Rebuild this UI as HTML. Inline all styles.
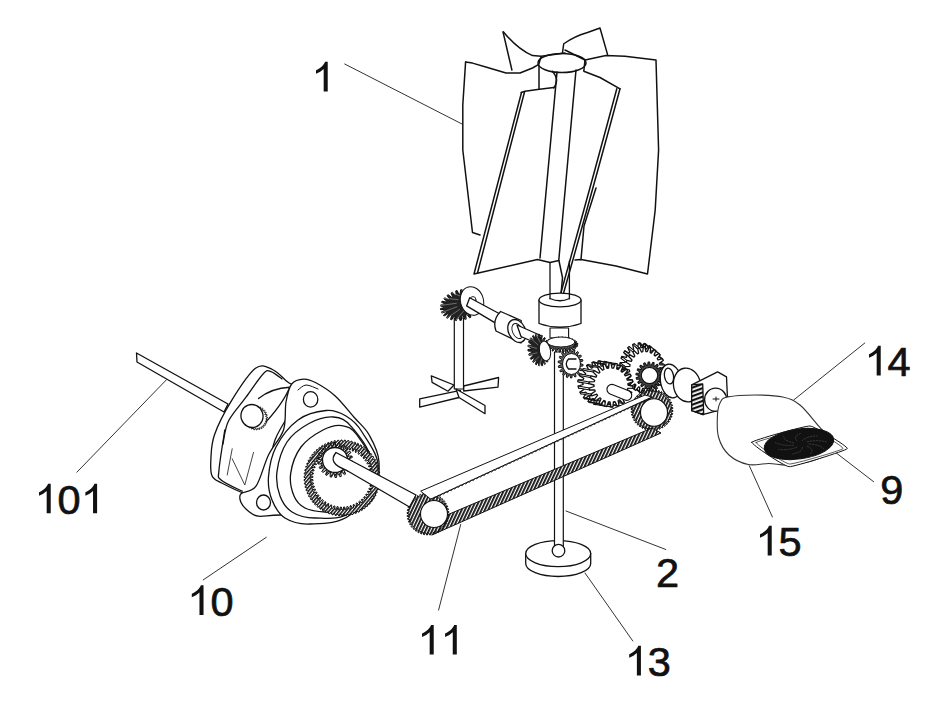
<!DOCTYPE html>
<html><head><meta charset="utf-8"><style>
html,body{margin:0;padding:0;background:#fff;width:928px;height:704px;overflow:hidden}
svg{position:absolute;left:0;top:0}
</style></head><body>
<svg width="928" height="704" viewBox="0 0 928 704" font-family="Liberation Sans, sans-serif" stroke-linejoin="round" stroke-linecap="round">
<rect width="928" height="704" fill="#fff"/>
<path d="M323.68,91.50 L327.72,91.50 L327.72,61.83 L325.03,61.83 C324.09,64.94 320.56,68.26 316.00,70.34 L316.00,73.86 C318.90,72.72 321.81,70.96 323.68,69.09 Z" fill="#111"/>
<path d="M46.68,513.30 L50.72,513.30 L50.72,483.63 L48.03,483.63 C47.09,486.74 43.56,490.06 39.00,492.13 L39.00,495.66 C41.91,494.52 44.81,492.76 46.68,490.89 Z" fill="#111"/>
<text x="57.6" y="513.9" font-size="41.5" fill="#111" stroke="#111" stroke-width="0.7">0</text>
<path d="M93.05,513.30 L97.10,513.30 L97.10,483.63 L94.40,483.63 C93.47,486.74 89.94,490.06 85.38,492.13 L85.38,495.66 C88.28,494.52 91.19,492.76 93.05,490.89 Z" fill="#111"/>
<path d="M199.48,615.00 L203.52,615.00 L203.52,585.33 L200.83,585.33 C199.89,588.44 196.37,591.76 191.80,593.84 L191.80,597.36 C194.71,596.22 197.61,594.46 199.48,592.59 Z" fill="#111"/>
<text x="210.4" y="615.6" font-size="41.5" fill="#111" stroke="#111" stroke-width="0.7">0</text>
<path d="M429.68,654.60 L433.72,654.60 L433.72,624.93 L431.03,624.93 C430.09,628.04 426.56,631.36 422.00,633.44 L422.00,636.96 C424.90,635.82 427.81,634.06 429.68,632.19 Z" fill="#111"/>
<path d="M452.75,654.60 L456.80,654.60 L456.80,624.93 L454.10,624.93 C453.17,628.04 449.64,631.36 445.07,633.44 L445.07,636.96 C447.98,635.82 450.88,634.06 452.75,632.19 Z" fill="#111"/>
<path d="M636.88,675.50 L640.92,675.50 L640.92,645.83 L638.23,645.83 C637.29,648.94 633.77,652.26 629.20,654.34 L629.20,657.86 C632.11,656.72 635.01,654.96 636.88,653.09 Z" fill="#111"/>
<text x="647.8" y="676.1" font-size="41.5" fill="#111" stroke="#111" stroke-width="0.7">3</text>
<text x="655.9" y="586.6" font-size="41.5" fill="#111" stroke="#111" stroke-width="0.7">2</text>
<path d="M876.68,375.50 L880.72,375.50 L880.72,345.83 L878.03,345.83 C877.09,348.94 873.57,352.26 869.00,354.33 L869.00,357.86 C871.90,356.72 874.81,354.96 876.68,353.09 Z" fill="#111"/>
<text x="887.6" y="376.1" font-size="41.5" fill="#111" stroke="#111" stroke-width="0.7">4</text>
<text x="880.2" y="504.1" font-size="41.5" fill="#111" stroke="#111" stroke-width="0.7">9</text>
<path d="M767.68,555.40 L771.72,555.40 L771.72,525.73 L769.03,525.73 C768.09,528.84 764.57,532.16 760.00,534.24 L760.00,537.76 C762.90,536.62 765.81,534.86 767.68,532.99 Z" fill="#111"/>
<text x="778.6" y="556.0" font-size="41.5" fill="#111" stroke="#111" stroke-width="0.7">5</text>
<polyline points="344.7,64.0 462.0,124.0" fill="none" stroke="#333" stroke-width="1.0"/>
<polyline points="166.4,379.8 76.9,472.2" fill="none" stroke="#333" stroke-width="1.0"/>
<polyline points="266.3,537.3 203.2,579.9" fill="none" stroke="#333" stroke-width="1.0"/>
<polyline points="460.7,524.5 438.6,610.0" fill="none" stroke="#333" stroke-width="1.0"/>
<polyline points="585.0,573.0 632.8,641.0" fill="none" stroke="#333" stroke-width="1.0"/>
<polyline points="566.0,511.0 665.8,549.5" fill="none" stroke="#333" stroke-width="1.0"/>
<polyline points="864.8,343.0 793.7,400.0" fill="none" stroke="#333" stroke-width="1.0"/>
<polyline points="873.6,481.7 836.3,453.0" fill="none" stroke="#333" stroke-width="1.0"/>
<polyline points="772.4,517.0 749.3,465.7" fill="none" stroke="#333" stroke-width="1.0"/>
<polyline points="465.6,61.9 472.5,63.1 487.5,67.5 506.0,73.0 520.0,73.0 532.5,68.0 538.8,64.4 541.0,57.0" fill="none" stroke="#111" stroke-width="1.5"/>
<polyline points="465.6,61.9 462.8,105.0 462.8,150.0 472.5,232.5 480.0,235.0" fill="none" stroke="#111" stroke-width="1.5"/>
<polyline points="503.0,31.9 511.9,70.0" fill="none" stroke="#111" stroke-width="1.5"/>
<path d="M503.5,31.9 Q517.5,49 532.5,55.6 L541.25,56.25 L565,53" fill="none" stroke="#111" stroke-width="1.5" />
<ellipse cx="562" cy="63" rx="24" ry="9.5" transform="rotate(0 562 63)" fill="none" stroke="#111" stroke-width="1.5"/>
<path d="M562.5,52.5 L563.75,43.75 Q575,36 587.5,32.5 L600,28 L607.5,54.4" fill="none" stroke="#111" stroke-width="1.5" />
<polyline points="565.0,50.0 585.0,60.0" fill="none" stroke="#111" stroke-width="1.5"/>
<polyline points="585.0,60.0 606.0,55.6 625.0,56.2 656.0,60.0 658.6,150.0 655.2,210.0 647.5,274.0 616.0,266.0 581.0,259.4 575.0,260.0" fill="none" stroke="#111" stroke-width="1.5"/>
<polyline points="585.0,60.0 583.8,71.2 600.0,77.5 620.0,88.8" fill="none" stroke="#111" stroke-width="1.5"/>
<path d="M620,88.75 Q594,185 563.75,292.5" fill="none" stroke="#111" stroke-width="1.5" />
<path d="M616.8,88.75 Q591,185 561,292.5" fill="none" stroke="#111" stroke-width="1.5" />
<polyline points="596.0,188.0 584.0,226.0 581.0,259.4" fill="none" stroke="#111" stroke-width="1.5"/>
<polyline points="521.2,92.5 525.0,91.2 537.5,89.4 553.8,87.5" fill="none" stroke="#111" stroke-width="1.5"/>
<polyline points="521.5,92.5 474.0,274.0 537.5,259.4 550.0,262.5 558.8,260.6" fill="none" stroke="#111" stroke-width="1.5"/>
<polyline points="524.5,92.0 477.5,273.0" fill="none" stroke="#111" stroke-width="1.5"/>
<polyline points="539.0,66.0 539.0,88.8" fill="none" stroke="#111" stroke-width="1.5"/>
<path d="M552.5,71.25 Q560,80 553.75,88" fill="none" stroke="#111" stroke-width="1.5" />
<polyline points="557.0,72.0 540.0,258.0" fill="none" stroke="#111" stroke-width="1.5"/>
<polyline points="576.0,70.0 558.8,260.0 562.5,277.5 561.2,292.5" fill="none" stroke="#111" stroke-width="1.5"/>
<polygon points="431.3,375.8 454.0,385.0 448.0,391.2 432.1,382.4" fill="#fff" stroke="#111" stroke-width="1.3"/>
<polygon points="463.7,386.0 498.6,377.5 498.0,387.2 463.7,391.0" fill="#fff" stroke="#111" stroke-width="1.3"/>
<rect x="454.3" y="318" width="9.2" height="71" fill="#fff" stroke="#111" stroke-width="1.2"/>
<polygon points="460.4,390.4 419.7,398.8 419.7,407.2 459.0,397.5" fill="#fff" stroke="#111" stroke-width="1.3"/>
<polygon points="456.0,389.0 485.0,405.5 485.0,413.7 459.0,397.5" fill="#fff" stroke="#111" stroke-width="1.3"/>
<polygon points="477.4,300.6 481.4,300.3 481.6,301.4 477.7,302.5 477.6,303.3 481.5,303.9 481.3,305.1 477.2,305.2 476.9,306.0 480.5,307.7 479.9,308.8 475.8,308.0 475.2,308.8 478.2,311.2 477.4,312.2 473.5,310.5 472.7,311.2 475.0,314.4 473.9,315.3 470.5,312.8 469.5,313.4 471.0,317.1 469.6,317.8 466.9,314.6 465.8,315.0 466.3,319.1 464.9,319.5 463.1,315.8 461.8,316.1 461.4,320.2 459.9,320.4 459.0,316.4 457.8,316.5 456.5,320.5 455.0,320.4 455.1,316.4 454.0,316.2 451.8,319.8 450.5,319.4 451.6,315.7 450.6,315.3 447.6,318.3 446.5,317.7 448.6,314.3 447.8,313.8 444.2,316.0 443.4,315.2 446.3,312.5 445.7,311.8 441.8,313.1 441.3,312.1 444.8,310.2 444.6,309.4 440.6,309.7 440.4,308.6 444.3,307.5 444.4,306.7 440.5,306.1 440.7,304.9 444.8,304.8 445.1,304.0 441.5,302.3 442.1,301.2 446.2,302.0 446.8,301.2 443.8,298.8 444.6,297.8 448.5,299.5 449.3,298.8 447.0,295.6 448.1,294.7 451.5,297.2 452.5,296.6 451.0,292.9 452.4,292.2 455.1,295.4 456.2,295.0 455.7,290.9 457.1,290.5 458.9,294.2 460.2,293.9 460.6,289.8 462.1,289.6 463.0,293.6 464.2,293.5 465.5,289.5 467.0,289.6 466.9,293.6 468.0,293.8 470.2,290.2 471.5,290.6 470.4,294.3 471.4,294.7 474.4,291.7 475.5,292.3 473.4,295.7 474.2,296.2 477.8,294.0 478.6,294.8 475.7,297.5 476.3,298.2 480.2,296.9 480.7,297.9 477.2,299.8" fill="#222" stroke="#111" stroke-width="1.0"/>
<polyline points="481.5,300.8 476.8,300.9" fill="none" stroke="#bbb" stroke-width="0.5"/>
<polyline points="480.2,308.2 476.1,304.6" fill="none" stroke="#bbb" stroke-width="0.5"/>
<polyline points="474.4,314.9 473.2,307.9" fill="none" stroke="#bbb" stroke-width="0.5"/>
<polyline points="465.6,319.3 468.8,310.1" fill="none" stroke="#bbb" stroke-width="0.5"/>
<polyline points="455.7,320.4 463.9,310.7" fill="none" stroke="#bbb" stroke-width="0.5"/>
<polyline points="447.1,318.0 459.5,309.5" fill="none" stroke="#bbb" stroke-width="0.5"/>
<polyline points="441.6,312.6 456.8,306.8" fill="none" stroke="#bbb" stroke-width="0.5"/>
<polyline points="440.5,305.5 456.3,303.3" fill="none" stroke="#bbb" stroke-width="0.5"/>
<polyline points="444.2,298.3 458.1,299.6" fill="none" stroke="#bbb" stroke-width="0.5"/>
<polyline points="451.7,292.6 461.9,296.8" fill="none" stroke="#bbb" stroke-width="0.5"/>
<polyline points="461.3,289.7 466.7,295.4" fill="none" stroke="#bbb" stroke-width="0.5"/>
<polyline points="470.9,290.4 471.4,295.7" fill="none" stroke="#bbb" stroke-width="0.5"/>
<polyline points="478.2,294.4 475.1,297.7" fill="none" stroke="#bbb" stroke-width="0.5"/>
<ellipse cx="472" cy="301" rx="11.5" ry="14.5" transform="rotate(-15 472 301)" fill="#fff" stroke="#111" stroke-width="1.0"/>
<ellipse cx="473" cy="300" rx="3" ry="3.5" transform="rotate(0 473 300)" fill="#fff" stroke="#111" stroke-width="0.9"/>
<polygon points="469.7,297.7 500.0,314.0 496.0,323.4 466.6,305.9" fill="#fff" stroke="#111" stroke-width="1.3"/>
<path d="M500.6,311.5 L521.2,320.5 L521,343 L496,331 Q492,320 500.6,311.5 Z" fill="#fff" stroke="#111" stroke-width="1.3" />
<ellipse cx="517" cy="331" rx="8.5" ry="12" transform="rotate(-25 517 331)" fill="#fff" stroke="#111" stroke-width="1.3"/>
<ellipse cx="517.5" cy="331" rx="5" ry="8" transform="rotate(-25 517.5 331)" fill="none" stroke="#111" stroke-width="0.9"/>
<polygon points="517.0,325.0 541.8,336.0 538.0,344.0 521.0,336.5" fill="#fff" stroke="#111" stroke-width="1.3"/>
<path d="M525.7,553.6 L525.7,563.5 A32.5,13 0 0 0 590.7,563.5 L590.7,553.6" fill="#fff" stroke="#111" stroke-width="1.3" />
<ellipse cx="558.2" cy="553.6" rx="32.5" ry="13" transform="rotate(0 558.2 553.6)" fill="#fff" stroke="#111" stroke-width="1.3"/>
<rect x="554.5" y="352" width="8.8" height="196" fill="#fff" stroke="#111" stroke-width="1.2"/>
<ellipse cx="558.5" cy="550.7" rx="6.3" ry="6.3" transform="rotate(0 558.5 550.7)" fill="#fff" stroke="#111" stroke-width="1.3"/>
<path d="M539,300 L539,323.5 Q560,331 581,323.5 L581,300" fill="#fff" stroke="#111" stroke-width="1.3" />
<ellipse cx="560" cy="300" rx="21" ry="6.9" transform="rotate(0 560 300)" fill="#fff" stroke="#111" stroke-width="1.3"/>
<path d="M550,298.5 Q560,303 569.5,298.5" fill="none" stroke="#111" stroke-width="1.3" />
<polyline points="550.0,262.5 550.0,298.8" fill="none" stroke="#111" stroke-width="1.3"/>
<polyline points="569.4,261.0 569.4,298.8" fill="none" stroke="#111" stroke-width="1.3"/>
<rect x="550" y="328" width="18.6" height="10" fill="#fff" stroke="#111" stroke-width="1.1"/>
<polygon points="574.5,344.5 578.0,344.8 577.9,345.3 574.3,345.1 574.2,345.4 577.4,346.5 577.0,347.0 573.5,346.0 573.2,346.2 576.0,348.1 575.4,348.5 572.1,346.8 571.6,347.0 573.8,349.4 573.0,349.8 570.1,347.5 569.4,347.6 571.0,350.6 570.0,350.9 567.7,348.0 566.9,348.1 567.7,351.4 566.6,351.6 564.9,348.3 564.0,348.4 564.0,351.9 562.9,352.0 561.9,348.5 561.0,348.5 560.2,352.0 559.1,352.0 558.9,348.5 558.0,348.4 556.5,351.7 555.4,351.6 556.0,348.2 555.1,348.1 552.9,351.1 552.0,350.9 553.3,347.8 552.6,347.6 549.8,350.1 549.0,349.8 551.0,347.2 550.4,347.0 547.2,348.9 546.6,348.5 549.3,346.5 548.8,346.2 545.4,347.4 545.0,347.0 548.1,345.7 547.8,345.4 544.3,345.8 544.1,345.3 547.5,344.8 547.5,344.5 544.0,344.2 544.1,343.7 547.7,343.9 547.8,343.6 544.6,342.5 545.0,342.0 548.5,343.0 548.8,342.8 546.0,340.9 546.6,340.5 549.9,342.2 550.4,342.0 548.2,339.6 549.0,339.2 551.9,341.5 552.6,341.4 551.0,338.4 552.0,338.1 554.3,341.0 555.1,340.9 554.3,337.6 555.4,337.4 557.1,340.7 558.0,340.6 558.0,337.1 559.1,337.0 560.1,340.5 561.0,340.5 561.8,337.0 562.9,337.0 563.1,340.5 564.0,340.6 565.5,337.3 566.6,337.4 566.0,340.8 566.9,340.9 569.1,337.9 570.0,338.1 568.7,341.2 569.4,341.4 572.2,338.9 573.0,339.2 571.0,341.8 571.6,342.0 574.8,340.1 575.4,340.5 572.7,342.5 573.2,342.8 576.6,341.6 577.0,342.0 573.9,343.3 574.2,343.6 577.7,343.2 577.9,343.7 574.5,344.2" fill="#555" stroke="#111" stroke-width="1.0"/>
<ellipse cx="561" cy="342" rx="14" ry="5" transform="rotate(0 561 342)" fill="#fff" stroke="#111" stroke-width="1.0"/>
<polygon points="546.4,348.7 550.0,349.0 550.1,350.4 546.7,351.2 546.7,352.2 550.1,353.5 550.0,354.8 546.5,354.6 546.4,355.6 549.4,357.7 549.0,358.9 545.8,357.6 545.5,358.5 547.8,361.3 547.2,362.2 544.5,360.1 544.0,360.7 545.5,364.0 544.7,364.6 542.8,361.7 542.2,362.0 542.7,365.5 541.8,365.8 540.7,362.4 540.1,362.4 539.6,365.8 538.6,365.7 538.6,362.0 537.9,361.7 536.4,364.8 535.5,364.3 536.4,360.7 535.8,360.2 533.4,362.6 532.6,361.8 534.5,358.5 534.0,357.8 530.9,359.4 530.3,358.3 532.9,355.7 532.5,354.7 529.1,355.4 528.7,354.1 531.8,352.4 531.6,351.3 528.0,351.0 527.9,349.6 531.3,348.8 531.3,347.8 527.9,346.5 528.0,345.2 531.5,345.4 531.6,344.4 528.6,342.3 529.0,341.1 532.2,342.4 532.5,341.5 530.2,338.7 530.8,337.8 533.5,339.9 534.0,339.3 532.5,336.0 533.3,335.4 535.2,338.3 535.8,338.0 535.3,334.5 536.2,334.2 537.3,337.6 537.9,337.6 538.4,334.2 539.4,334.3 539.4,338.0 540.1,338.3 541.6,335.2 542.5,335.7 541.6,339.3 542.2,339.8 544.6,337.4 545.4,338.2 543.5,341.5 544.0,342.2 547.1,340.6 547.7,341.7 545.1,344.3 545.5,345.3 548.9,344.6 549.3,345.9 546.2,347.6" fill="#222" stroke="#111" stroke-width="1.0"/>
<polyline points="550.1,349.7 547.5,350.3" fill="none" stroke="#bbb" stroke-width="0.5"/>
<polyline points="549.2,358.3 547.1,354.7" fill="none" stroke="#bbb" stroke-width="0.5"/>
<polyline points="545.1,364.3 545.1,357.6" fill="none" stroke="#bbb" stroke-width="0.5"/>
<polyline points="539.1,365.8 542.0,358.4" fill="none" stroke="#bbb" stroke-width="0.5"/>
<polyline points="533.0,362.2 539.0,356.6" fill="none" stroke="#bbb" stroke-width="0.5"/>
<polyline points="528.9,354.8 536.9,352.9" fill="none" stroke="#bbb" stroke-width="0.5"/>
<polyline points="527.9,345.8 536.5,348.4" fill="none" stroke="#bbb" stroke-width="0.5"/>
<polyline points="530.5,338.2 537.7,344.6" fill="none" stroke="#bbb" stroke-width="0.5"/>
<polyline points="535.8,334.3 540.4,342.7" fill="none" stroke="#bbb" stroke-width="0.5"/>
<polyline points="542.1,335.4 543.5,343.2" fill="none" stroke="#bbb" stroke-width="0.5"/>
<polyline points="547.4,341.1 546.2,346.1" fill="none" stroke="#bbb" stroke-width="0.5"/>
<ellipse cx="545" cy="351" rx="5.5" ry="10" transform="rotate(-10 545 351)" fill="#fff" stroke="#111" stroke-width="1.0"/>
<polygon points="580.1,363.5 583.1,364.5 582.9,366.0 579.8,366.3 579.5,367.4 582.0,369.4 581.4,370.8 578.5,369.9 577.9,370.9 579.6,373.6 578.6,374.6 576.2,372.8 575.4,373.5 576.1,376.5 574.9,377.1 573.2,374.6 572.2,374.8 571.9,377.9 570.6,378.0 569.9,375.0 569.0,374.8 567.6,377.6 566.3,377.1 566.7,374.0 565.9,373.5 563.6,375.5 562.6,374.6 564.0,371.8 563.3,370.9 560.5,372.0 559.8,370.8 562.1,368.5 561.7,367.4 558.6,367.5 558.3,366.0 561.2,364.7 561.1,363.5 558.1,362.5 558.3,361.0 561.4,360.7 561.7,359.6 559.2,357.6 559.8,356.2 562.7,357.1 563.3,356.1 561.6,353.4 562.6,352.4 565.0,354.2 565.9,353.5 565.1,350.5 566.3,349.9 568.0,352.4 569.0,352.2 569.3,349.1 570.6,349.0 571.3,352.0 572.2,352.2 573.6,349.4 574.9,349.9 574.5,353.0 575.4,353.5 577.6,351.5 578.6,352.4 577.2,355.2 577.9,356.1 580.7,355.0 581.4,356.2 579.1,358.5 579.5,359.6 582.6,359.5 582.9,361.0 580.0,362.3" fill="#666" stroke="#111" stroke-width="1.0"/>
<ellipse cx="571.5" cy="364" rx="9" ry="10.5" transform="rotate(0 571.5 364)" fill="#fff" stroke="#111" stroke-width="1.0"/>
<path d="M576,359 L568.5,359 Q564,364 568.5,369 L576,369" fill="none" stroke="#111" stroke-width="1.3" />
<polygon points="655.5,366.0 660.0,367.3 659.8,369.3 655.2,369.7 654.9,371.2 658.8,373.7 658.2,375.6 653.7,374.6 653.0,376.0 656.2,379.5 655.1,381.1 651.1,378.9 650.2,380.0 652.2,384.2 650.8,385.3 647.6,382.1 646.4,382.8 647.3,387.4 645.6,388.1 643.5,384.0 642.2,384.3 641.7,388.9 640.0,389.0 639.1,384.5 637.8,384.3 636.0,388.5 634.4,388.1 634.8,383.4 633.6,382.8 630.7,386.3 629.2,385.3 630.9,381.0 629.8,380.0 626.1,382.5 624.9,381.1 627.7,377.3 627.0,376.0 622.6,377.3 621.8,375.6 625.6,372.7 625.1,371.2 620.5,371.2 620.2,369.3 624.6,367.6 624.5,366.0 620.0,364.7 620.2,362.7 624.8,362.3 625.1,360.8 621.2,358.3 621.8,356.4 626.3,357.4 627.0,356.0 623.8,352.5 624.9,350.9 628.9,353.1 629.8,352.0 627.8,347.8 629.2,346.7 632.4,349.9 633.6,349.2 632.7,344.6 634.4,343.9 636.5,348.0 637.8,347.7 638.3,343.1 640.0,343.0 640.9,347.5 642.2,347.7 644.0,343.5 645.6,343.9 645.2,348.6 646.4,349.2 649.3,345.7 650.8,346.7 649.1,351.0 650.2,352.0 653.9,349.5 655.1,350.9 652.3,354.7 653.0,356.0 657.4,354.7 658.2,356.4 654.4,359.3 654.9,360.8 659.5,360.8 659.8,362.7 655.4,364.4" fill="#fff" stroke="#111" stroke-width="1.3"/>
<polygon points="660.0,367.3 659.8,369.3 664.8,373.3 665.0,371.3" fill="#fff" stroke="#111" stroke-width="1.04"/>
<polygon points="658.8,373.7 658.2,375.6 663.2,379.6 663.8,377.7" fill="#fff" stroke="#111" stroke-width="1.04"/>
<polygon points="656.2,379.5 655.1,381.1 660.1,385.1 661.2,383.5" fill="#fff" stroke="#111" stroke-width="1.04"/>
<polygon points="652.2,384.2 650.8,385.3 655.8,389.3 657.2,388.2" fill="#fff" stroke="#111" stroke-width="1.04"/>
<polygon points="647.3,387.4 645.6,388.1 650.6,392.1 652.3,391.4" fill="#fff" stroke="#111" stroke-width="1.04"/>
<polygon points="641.7,388.9 640.0,389.0 645.0,393.0 646.7,392.9" fill="#fff" stroke="#111" stroke-width="1.04"/>
<polygon points="636.0,388.5 634.4,388.1 639.4,392.1 641.0,392.5" fill="#fff" stroke="#111" stroke-width="1.04"/>
<polygon points="630.7,386.3 629.2,385.3 634.2,389.3 635.7,390.3" fill="#fff" stroke="#111" stroke-width="1.04"/>
<polygon points="626.1,382.5 624.9,381.1 629.9,385.1 631.1,386.5" fill="#fff" stroke="#111" stroke-width="1.04"/>
<polygon points="622.6,377.3 621.8,375.6 626.8,379.6 627.6,381.3" fill="#fff" stroke="#111" stroke-width="1.04"/>
<polygon points="620.5,371.2 620.2,369.3 625.2,373.3 625.5,375.2" fill="#fff" stroke="#111" stroke-width="1.04"/>
<polygon points="620.0,364.7 620.2,362.7 625.2,366.7 625.0,368.7" fill="#fff" stroke="#111" stroke-width="1.04"/>
<polygon points="621.2,358.3 621.8,356.4 626.8,360.4 626.2,362.3" fill="#fff" stroke="#111" stroke-width="1.04"/>
<polygon points="623.8,352.5 624.9,350.9 629.9,354.9 628.8,356.5" fill="#fff" stroke="#111" stroke-width="1.04"/>
<polygon points="627.8,347.8 629.2,346.7 634.2,350.7 632.8,351.8" fill="#fff" stroke="#111" stroke-width="1.04"/>
<polygon points="632.7,344.6 634.4,343.9 639.4,347.9 637.7,348.6" fill="#fff" stroke="#111" stroke-width="1.04"/>
<polygon points="638.3,343.1 640.0,343.0 645.0,347.0 643.3,347.1" fill="#fff" stroke="#111" stroke-width="1.04"/>
<polygon points="644.0,343.5 645.6,343.9 650.6,347.9 649.0,347.5" fill="#fff" stroke="#111" stroke-width="1.04"/>
<polygon points="649.3,345.7 650.8,346.7 655.8,350.7 654.3,349.7" fill="#fff" stroke="#111" stroke-width="1.04"/>
<polygon points="653.9,349.5 655.1,350.9 660.1,354.9 658.9,353.5" fill="#fff" stroke="#111" stroke-width="1.04"/>
<polygon points="657.4,354.7 658.2,356.4 663.2,360.4 662.4,358.7" fill="#fff" stroke="#111" stroke-width="1.04"/>
<polygon points="659.5,360.8 659.8,362.7 664.8,366.7 664.5,364.8" fill="#fff" stroke="#111" stroke-width="1.04"/>
<polygon points="660.5,370.0 665.0,371.3 664.8,373.3 660.2,373.7 659.9,375.2 663.8,377.7 663.2,379.6 658.7,378.6 658.0,380.0 661.2,383.5 660.1,385.1 656.1,382.9 655.2,384.0 657.2,388.2 655.8,389.3 652.6,386.1 651.4,386.8 652.3,391.4 650.6,392.1 648.5,388.0 647.2,388.3 646.7,392.9 645.0,393.0 644.1,388.5 642.8,388.3 641.0,392.5 639.4,392.1 639.8,387.4 638.6,386.8 635.7,390.3 634.2,389.3 635.9,385.0 634.8,384.0 631.1,386.5 629.9,385.1 632.7,381.3 632.0,380.0 627.6,381.3 626.8,379.6 630.6,376.7 630.1,375.2 625.5,375.2 625.2,373.3 629.6,371.6 629.5,370.0 625.0,368.7 625.2,366.7 629.8,366.3 630.1,364.8 626.2,362.3 626.8,360.4 631.3,361.4 632.0,360.0 628.8,356.5 629.9,354.9 633.9,357.1 634.8,356.0 632.8,351.8 634.2,350.7 637.4,353.9 638.6,353.2 637.7,348.6 639.4,347.9 641.5,352.0 642.8,351.7 643.3,347.1 645.0,347.0 645.9,351.5 647.2,351.7 649.0,347.5 650.6,347.9 650.2,352.6 651.4,353.2 654.3,349.7 655.8,350.7 654.1,355.0 655.2,356.0 658.9,353.5 660.1,354.9 657.3,358.7 658.0,360.0 662.4,358.7 663.2,360.4 659.4,363.3 659.9,364.8 664.5,364.8 664.8,366.7 660.4,368.4" fill="#fff" stroke="#111" stroke-width="1.3"/>
<polygon points="617.0,383.0 622.0,384.3 621.8,386.1 616.7,386.4 616.3,387.8 620.7,390.4 620.0,392.1 615.0,390.9 614.3,392.2 617.8,395.9 616.6,397.4 612.2,394.8 611.1,395.8 613.4,400.4 611.9,401.5 608.4,397.8 607.1,398.5 608.0,403.5 606.2,404.1 603.9,399.6 602.4,399.8 601.9,404.9 600.0,405.0 599.0,400.0 597.6,399.8 595.6,404.6 593.8,404.1 594.3,399.0 592.9,398.5 589.7,402.5 588.1,401.5 590.0,396.8 588.9,395.8 584.7,398.8 583.4,397.4 586.5,393.4 585.7,392.2 580.8,393.8 580.0,392.1 584.2,389.2 583.7,387.8 578.6,388.0 578.2,386.1 583.1,384.5 583.0,383.0 578.0,381.7 578.2,379.9 583.3,379.6 583.7,378.2 579.3,375.6 580.0,373.9 585.0,375.1 585.7,373.8 582.2,370.1 583.4,368.6 587.8,371.2 588.9,370.2 586.6,365.6 588.1,364.5 591.6,368.2 592.9,367.5 592.0,362.5 593.8,361.9 596.1,366.4 597.6,366.2 598.1,361.1 600.0,361.0 601.0,366.0 602.4,366.2 604.4,361.4 606.2,361.9 605.7,367.0 607.1,367.5 610.3,363.5 611.9,364.5 610.0,369.2 611.1,370.2 615.3,367.2 616.6,368.6 613.5,372.6 614.3,373.8 619.2,372.2 620.0,373.9 615.8,376.8 616.3,378.2 621.4,378.0 621.8,379.9 616.9,381.5" fill="#fff" stroke="#111" stroke-width="1.3"/>
<polygon points="622.0,384.3 621.8,386.1 632.8,388.1 633.0,386.3" fill="#fff" stroke="#111" stroke-width="1.04"/>
<polygon points="620.7,390.4 620.0,392.1 631.0,394.1 631.7,392.4" fill="#fff" stroke="#111" stroke-width="1.04"/>
<polygon points="617.8,395.9 616.6,397.4 627.6,399.4 628.8,397.9" fill="#fff" stroke="#111" stroke-width="1.04"/>
<polygon points="613.4,400.4 611.9,401.5 622.9,403.5 624.4,402.4" fill="#fff" stroke="#111" stroke-width="1.04"/>
<polygon points="608.0,403.5 606.2,404.1 617.2,406.1 619.0,405.5" fill="#fff" stroke="#111" stroke-width="1.04"/>
<polygon points="601.9,404.9 600.0,405.0 611.0,407.0 612.9,406.9" fill="#fff" stroke="#111" stroke-width="1.04"/>
<polygon points="595.6,404.6 593.8,404.1 604.8,406.1 606.6,406.6" fill="#fff" stroke="#111" stroke-width="1.04"/>
<polygon points="589.7,402.5 588.1,401.5 599.1,403.5 600.7,404.5" fill="#fff" stroke="#111" stroke-width="1.04"/>
<polygon points="584.7,398.8 583.4,397.4 594.4,399.4 595.7,400.8" fill="#fff" stroke="#111" stroke-width="1.04"/>
<polygon points="580.8,393.8 580.0,392.1 591.0,394.1 591.8,395.8" fill="#fff" stroke="#111" stroke-width="1.04"/>
<polygon points="578.6,388.0 578.2,386.1 589.2,388.1 589.6,390.0" fill="#fff" stroke="#111" stroke-width="1.04"/>
<polygon points="578.0,381.7 578.2,379.9 589.2,381.9 589.0,383.7" fill="#fff" stroke="#111" stroke-width="1.04"/>
<polygon points="579.3,375.6 580.0,373.9 591.0,375.9 590.3,377.6" fill="#fff" stroke="#111" stroke-width="1.04"/>
<polygon points="582.2,370.1 583.4,368.6 594.4,370.6 593.2,372.1" fill="#fff" stroke="#111" stroke-width="1.04"/>
<polygon points="586.6,365.6 588.1,364.5 599.1,366.5 597.6,367.6" fill="#fff" stroke="#111" stroke-width="1.04"/>
<polygon points="592.0,362.5 593.8,361.9 604.8,363.9 603.0,364.5" fill="#fff" stroke="#111" stroke-width="1.04"/>
<polygon points="598.1,361.1 600.0,361.0 611.0,363.0 609.1,363.1" fill="#fff" stroke="#111" stroke-width="1.04"/>
<polygon points="604.4,361.4 606.2,361.9 617.2,363.9 615.4,363.4" fill="#fff" stroke="#111" stroke-width="1.04"/>
<polygon points="610.3,363.5 611.9,364.5 622.9,366.5 621.3,365.5" fill="#fff" stroke="#111" stroke-width="1.04"/>
<polygon points="615.3,367.2 616.6,368.6 627.6,370.6 626.3,369.2" fill="#fff" stroke="#111" stroke-width="1.04"/>
<polygon points="619.2,372.2 620.0,373.9 631.0,375.9 630.2,374.2" fill="#fff" stroke="#111" stroke-width="1.04"/>
<polygon points="621.4,378.0 621.8,379.9 632.8,381.9 632.4,380.0" fill="#fff" stroke="#111" stroke-width="1.04"/>
<polygon points="628.0,385.0 633.0,386.3 632.8,388.1 627.7,388.4 627.3,389.8 631.7,392.4 631.0,394.1 626.0,392.9 625.3,394.2 628.8,397.9 627.6,399.4 623.2,396.8 622.1,397.8 624.4,402.4 622.9,403.5 619.4,399.8 618.1,400.5 619.0,405.5 617.2,406.1 614.9,401.6 613.4,401.8 612.9,406.9 611.0,407.0 610.0,402.0 608.6,401.8 606.6,406.6 604.8,406.1 605.3,401.0 603.9,400.5 600.7,404.5 599.1,403.5 601.0,398.8 599.9,397.8 595.7,400.8 594.4,399.4 597.5,395.4 596.7,394.2 591.8,395.8 591.0,394.1 595.2,391.2 594.7,389.8 589.6,390.0 589.2,388.1 594.1,386.5 594.0,385.0 589.0,383.7 589.2,381.9 594.3,381.6 594.7,380.2 590.3,377.6 591.0,375.9 596.0,377.1 596.7,375.8 593.2,372.1 594.4,370.6 598.8,373.2 599.9,372.2 597.6,367.6 599.1,366.5 602.6,370.2 603.9,369.5 603.0,364.5 604.8,363.9 607.1,368.4 608.6,368.2 609.1,363.1 611.0,363.0 612.0,368.0 613.4,368.2 615.4,363.4 617.2,363.9 616.7,369.0 618.1,369.5 621.3,365.5 622.9,366.5 621.0,371.2 622.1,372.2 626.3,369.2 627.6,370.6 624.5,374.6 625.3,375.8 630.2,374.2 631.0,375.9 626.8,378.8 627.3,380.2 632.4,380.0 632.8,381.9 627.9,383.5" fill="#fff" stroke="#111" stroke-width="1.3"/>
<rect x="-4" y="-5" width="26" height="10" rx="5" transform="translate(611 389) rotate(22)" fill="#fff" stroke="#111" stroke-width="1.2"/>
<polygon points="660.0,375.5 663.0,376.4 662.8,377.8 659.7,378.0 659.4,379.1 661.8,381.0 661.2,382.2 658.2,381.4 657.5,382.2 659.2,384.9 658.2,385.8 655.7,384.0 654.8,384.6 655.4,387.6 654.1,388.2 652.4,385.6 651.3,385.8 650.9,388.9 649.5,389.0 648.8,386.0 647.7,385.8 646.2,388.6 644.9,388.2 645.2,385.1 644.2,384.6 642.0,386.7 640.8,385.8 642.2,383.1 641.5,382.2 638.6,383.4 637.8,382.2 640.1,380.1 639.6,379.1 636.5,379.2 636.2,377.8 639.1,376.6 639.0,375.5 636.0,374.6 636.2,373.2 639.3,373.0 639.6,371.9 637.2,370.0 637.8,368.8 640.8,369.6 641.5,368.8 639.8,366.1 640.8,365.2 643.3,367.0 644.2,366.4 643.6,363.4 644.9,362.8 646.6,365.4 647.7,365.2 648.1,362.1 649.5,362.0 650.2,365.0 651.3,365.2 652.8,362.4 654.1,362.8 653.8,365.9 654.8,366.4 657.0,364.3 658.2,365.2 656.8,367.9 657.5,368.8 660.4,367.6 661.2,368.8 658.9,370.9 659.4,371.9 662.5,371.8 662.8,373.2 659.9,374.4" fill="#444" stroke="#111" stroke-width="1.1"/>
<ellipse cx="649.5" cy="375.5" rx="8.2" ry="8.2" transform="rotate(0 649.5 375.5)" fill="#fff" stroke="#111" stroke-width="1.2"/>
<ellipse cx="671" cy="381" rx="10.5" ry="17" transform="rotate(-10 671 381)" fill="#fff" stroke="#111" stroke-width="1.3"/>
<ellipse cx="669" cy="376" rx="4.5" ry="8" transform="rotate(-10 669 376)" fill="none" stroke="#111" stroke-width="1.3"/>
<ellipse cx="687" cy="385" rx="13.5" ry="17" transform="rotate(-10 687 385)" fill="#fff" stroke="#111" stroke-width="1.3"/>
<polygon points="691.7,384.8 717.6,371.9 726.5,376.9 727.5,398.7 717.6,410.7 702.7,414.6 691.7,410.7" fill="#fff" stroke="#111" stroke-width="1.3"/>
<defs><pattern id="hx" width="4" height="4" patternUnits="userSpaceOnUse" patternTransform="rotate(-20)"><rect width="4" height="4" fill="#fff"/><rect width="4" height="2.2" fill="#111"/></pattern></defs>
<polygon points="691.7,384.8 702.7,383.8 703.7,414.6 691.7,410.7" fill="url(#hx)" stroke="#111" stroke-width="1.3"/>
<ellipse cx="715.6" cy="399.7" rx="11" ry="11.5" transform="rotate(0 715.6 399.7)" fill="#fff" stroke="#111" stroke-width="1.3"/>
<polyline points="713.0,399.0 719.0,399.0" fill="none" stroke="#111" stroke-width="1.0"/>
<polyline points="716.0,397.0 716.0,401.0" fill="none" stroke="#111" stroke-width="1.0"/>
<polyline points="727.5,396.7 740.0,396.3" fill="none" stroke="#111" stroke-width="0.9"/>
<defs><pattern id="hb" width="3" height="3" patternUnits="userSpaceOnUse" patternTransform="rotate(25)"><rect width="3" height="3" fill="#fff"/><rect width="1.8" height="3" fill="#111"/></pattern></defs>
<polygon points="671.0,410.0 673.0,410.6 672.9,411.5 670.9,411.8 670.8,412.6 672.7,413.5 672.5,414.4 670.4,414.4 670.2,415.2 672.0,416.3 671.7,417.2 669.6,417.0 669.3,417.7 670.8,419.0 670.4,419.8 668.4,419.3 668.0,420.0 669.3,421.6 668.8,422.3 666.9,421.5 666.4,422.1 667.5,423.9 666.8,424.5 665.0,423.4 664.4,424.0 665.3,425.9 664.6,426.4 662.9,425.1 662.3,425.6 662.8,427.6 662.1,428.0 660.6,426.5 659.9,426.8 660.2,428.9 659.3,429.2 658.1,427.5 657.4,427.8 657.3,429.8 656.5,430.0 655.5,428.2 654.7,428.3 654.4,430.4 653.5,430.4 652.8,428.5 652.0,428.5 651.4,430.5 650.5,430.4 650.1,428.4 649.3,428.3 648.4,430.2 647.5,430.0 647.4,428.0 646.6,427.8 645.5,429.5 644.7,429.2 644.9,427.1 644.1,426.8 642.7,428.4 641.9,428.0 642.4,426.0 641.7,425.6 640.1,426.9 639.4,426.4 640.2,424.5 639.6,424.0 637.8,425.1 637.2,424.5 638.2,422.7 637.6,422.1 635.7,423.0 635.2,422.3 636.5,420.7 636.0,420.0 634.0,420.6 633.6,419.8 635.1,418.4 634.7,417.7 632.7,418.0 632.3,417.2 634.0,416.0 633.8,415.2 631.7,415.2 631.5,414.4 633.3,413.4 633.2,412.6 631.1,412.3 631.1,411.5 633.0,410.8 633.0,410.0 631.0,409.4 631.1,408.5 633.1,408.2 633.2,407.4 631.3,406.5 631.5,405.6 633.6,405.6 633.8,404.8 632.0,403.7 632.3,402.8 634.4,403.0 634.7,402.3 633.2,401.0 633.6,400.2 635.6,400.7 636.0,400.0 634.7,398.4 635.2,397.7 637.1,398.5 637.6,397.9 636.5,396.1 637.2,395.5 639.0,396.6 639.6,396.0 638.7,394.1 639.4,393.6 641.1,394.9 641.7,394.4 641.2,392.4 641.9,392.0 643.4,393.5 644.1,393.2 643.8,391.1 644.7,390.8 645.9,392.5 646.6,392.2 646.7,390.2 647.5,390.0 648.5,391.8 649.3,391.7 649.6,389.6 650.5,389.6 651.2,391.5 652.0,391.5 652.6,389.5 653.5,389.6 653.9,391.6 654.7,391.7 655.6,389.8 656.5,390.0 656.6,392.0 657.4,392.2 658.5,390.5 659.3,390.8 659.1,392.9 659.9,393.2 661.3,391.6 662.1,392.0 661.6,394.0 662.3,394.4 663.9,393.1 664.6,393.6 663.8,395.5 664.4,396.0 666.2,394.9 666.8,395.5 665.8,397.3 666.4,397.9 668.3,397.0 668.8,397.7 667.5,399.3 668.0,400.0 670.0,399.4 670.4,400.2 668.9,401.6 669.3,402.3 671.3,402.0 671.7,402.8 670.0,404.0 670.2,404.8 672.3,404.8 672.5,405.6 670.7,406.6 670.8,407.4 672.9,407.7 672.9,408.5 671.0,409.2" fill="url(#hb)" stroke="#111" stroke-width="1.0"/>
<ellipse cx="654" cy="412.5" rx="13.5" ry="13.8" transform="rotate(0 654 412.5)" fill="#fff" stroke="#111" stroke-width="1.1"/>
<polygon points="447.0,515.0 652.0,428.0 661.0,433.0 432.0,535.0" fill="url(#hb)" stroke="#111" stroke-width="1.0"/>
<polygon points="447.0,514.0 449.0,514.6 448.9,515.5 446.9,515.9 446.8,516.7 448.7,517.6 448.5,518.5 446.4,518.6 446.2,519.4 448.0,520.5 447.7,521.3 445.6,521.1 445.3,521.9 446.8,523.3 446.4,524.1 444.4,523.6 444.0,524.3 445.3,525.9 444.8,526.6 442.9,525.8 442.4,526.4 443.5,528.2 442.8,528.8 441.0,527.8 440.4,528.4 441.3,530.3 440.6,530.8 438.9,529.5 438.3,530.0 438.8,532.0 438.1,532.4 436.6,530.9 435.9,531.3 436.2,533.3 435.3,533.7 434.1,532.0 433.4,532.2 433.3,534.3 432.5,534.5 431.5,532.7 430.7,532.8 430.4,534.9 429.5,534.9 428.8,533.0 428.0,533.0 427.4,535.0 426.5,534.9 426.1,532.9 425.3,532.8 424.4,534.7 423.5,534.5 423.4,532.4 422.6,532.2 421.5,534.0 420.7,533.7 420.9,531.6 420.1,531.3 418.7,532.8 417.9,532.4 418.4,530.4 417.7,530.0 416.1,531.3 415.4,530.8 416.2,528.9 415.6,528.4 413.8,529.5 413.2,528.8 414.2,527.0 413.6,526.4 411.7,527.3 411.2,526.6 412.5,524.9 412.0,524.3 410.0,524.8 409.6,524.1 411.1,522.6 410.7,521.9 408.7,522.2 408.3,521.3 410.0,520.1 409.8,519.4 407.7,519.3 407.5,518.5 409.3,517.5 409.2,516.7 407.1,516.4 407.1,515.5 409.0,514.8 409.0,514.0 407.0,513.4 407.1,512.5 409.1,512.1 409.2,511.3 407.3,510.4 407.5,509.5 409.6,509.4 409.8,508.6 408.0,507.5 408.3,506.7 410.4,506.9 410.7,506.1 409.2,504.7 409.6,503.9 411.6,504.4 412.0,503.7 410.7,502.1 411.2,501.4 413.1,502.2 413.6,501.6 412.5,499.8 413.2,499.2 415.0,500.2 415.6,499.6 414.7,497.7 415.4,497.2 417.1,498.5 417.7,498.0 417.2,496.0 417.9,495.6 419.4,497.1 420.1,496.7 419.8,494.7 420.7,494.3 421.9,496.0 422.6,495.8 422.7,493.7 423.5,493.5 424.5,495.3 425.3,495.2 425.6,493.1 426.5,493.1 427.2,495.0 428.0,495.0 428.6,493.0 429.5,493.1 429.9,495.1 430.7,495.2 431.6,493.3 432.5,493.5 432.6,495.6 433.4,495.8 434.5,494.0 435.3,494.3 435.1,496.4 435.9,496.7 437.3,495.2 438.1,495.6 437.6,497.6 438.3,498.0 439.9,496.7 440.6,497.2 439.8,499.1 440.4,499.6 442.2,498.5 442.8,499.2 441.8,501.0 442.4,501.6 444.3,500.7 444.8,501.4 443.5,503.1 444.0,503.7 446.0,503.2 446.4,503.9 444.9,505.4 445.3,506.1 447.3,505.8 447.7,506.7 446.0,507.9 446.2,508.6 448.3,508.7 448.5,509.5 446.7,510.5 446.8,511.3 448.9,511.6 448.9,512.5 447.0,513.2" fill="url(#hb)" stroke="#111" stroke-width="1.0"/>
<ellipse cx="434" cy="514" rx="13.5" ry="13.5" transform="rotate(0 434 514)" fill="#fff" stroke="#111" stroke-width="1.1"/>
<polygon points="421.0,491.0 645.0,395.0 652.0,397.0 431.0,499.0" fill="#fff" stroke="#111" stroke-width="1.0"/>
<polyline points="431.0,498.7 432.8,499.3 434.7,497.0 436.5,497.6 438.4,495.3 440.2,495.9 442.1,493.6 443.9,494.2 445.7,491.9 447.6,492.6 449.4,490.2 451.3,490.8 453.1,488.5 454.9,489.1 456.8,486.8 458.6,487.4 460.5,485.1 462.3,485.8 464.1,483.4 466.0,484.1 467.8,481.7 469.7,482.3 471.5,480.0 473.4,480.6 475.2,478.3 477.0,478.9 478.9,476.6 480.7,477.2 482.6,474.9 484.4,475.6 486.2,473.2 488.1,473.8 489.9,471.5 491.8,472.1 493.6,469.8 495.5,470.4 497.3,468.1 499.1,468.8 501.0,466.4 502.8,467.1 504.7,464.7 506.5,465.3 508.4,463.0 510.2,463.6 512.0,461.3 513.9,461.9 515.7,459.6 517.6,460.2 519.4,457.9 521.2,458.6 523.1,456.2 524.9,456.8 526.8,454.5 528.6,455.1 530.5,452.8 532.3,453.4 534.1,451.1 536.0,451.8 537.8,449.4 539.7,450.1 541.5,447.7 543.3,448.3 545.2,446.0 547.0,446.6 548.9,444.3 550.7,444.9 552.5,442.6 554.4,443.2 556.2,440.9 558.1,441.6 559.9,439.2 561.8,439.8 563.6,437.5 565.4,438.1 567.3,435.8 569.1,436.4 571.0,434.1 572.8,434.8 574.6,432.4 576.5,433.1 578.3,430.7 580.2,431.3 582.0,429.0 583.9,429.6 585.7,427.3 587.5,427.9 589.4,425.6 591.2,426.2 593.1,423.9 594.9,424.6 596.8,422.2 598.6,422.8 600.4,420.5 602.3,421.1 604.1,418.8 606.0,419.4 607.8,417.1 609.6,417.8 611.5,415.4 613.3,416.1 615.2,413.7 617.0,414.3 618.9,412.0 620.7,412.6 622.5,410.3 624.4,410.9 626.2,408.6 628.1,409.2 629.9,406.9 631.7,407.6 633.6,405.2 635.4,405.8 637.3,403.5 639.1,404.1 641.0,401.8 642.8,402.4 644.6,400.1 646.5,400.8 648.3,398.4 650.2,399.1 652.0,396.7" fill="none" stroke="#111" stroke-width="0.8"/>
<polygon points="136.5,353.0 228.0,404.0 224.0,412.0 137.0,362.0" fill="#fff" stroke="#111" stroke-width="1.3"/>
<path d="M255.5,368.3 C262.3,363.1 267.1,367.3 272.4,369.5 C277.6,371.7 282.4,377.4 287.0,381.6 C291.6,385.9 302.0,385.3 300.0,395.0 C298.0,404.7 281.3,422.9 275.0,440.0 C268.7,457.1 266.4,488.2 262.0,497.4 C257.6,506.6 255.0,497.4 248.3,495.0 C241.6,492.6 227.8,486.2 221.7,483.0 C215.6,479.8 213.8,479.7 212.0,475.7 C210.2,471.7 210.5,465.6 210.9,458.8 C211.3,452.0 211.1,444.4 214.5,434.7 C217.9,425.0 224.6,412.0 231.4,400.9 C238.2,389.8 248.7,373.5 255.5,368.3 Z" fill="#fff" stroke="#111" stroke-width="1.3" />
<path d="M222.9,444.0 C223.8,440.2 224.7,428.8 228.5,421.0 C232.3,413.2 240.2,405.2 246.0,397.2 C251.8,389.3 259.3,377.8 263.5,373.5 C267.7,369.2 267.9,370.7 271.0,371.6 C274.1,372.5 280.2,377.8 282.0,379.0" fill="none" stroke="#111" stroke-width="1.3" />
<path d="M224.8,430.0 C223.8,436.7 219.6,461.7 219.0,470.0 C218.4,478.3 217.1,476.5 221.0,480.0 C224.9,483.5 238.7,489.4 242.2,491.2" fill="none" stroke="#111" stroke-width="1.3" />
<path d="M258.5,398.5 Q272,388 289.75,387.25 Q283,404 262.25,426" fill="none" stroke="#111" stroke-width="1.3" />
<polyline points="232.2,448.8 227.2,475.0" fill="none" stroke="#444" stroke-width="1.0"/>
<polyline points="232.2,458.8 244.8,485.0 253.5,452.5" fill="none" stroke="#444" stroke-width="1.0"/>
<polygon points="265.3,414.6 267.0,414.6 267.2,415.4 265.7,416.2 265.9,416.9 267.5,417.2 267.6,418.0 266.0,418.5 265.9,419.2 267.5,419.9 267.3,420.7 265.7,420.8 265.5,421.4 266.8,422.5 266.5,423.2 264.9,422.9 264.6,423.5 265.7,424.8 265.2,425.5 263.7,424.8 263.2,425.3 264.0,426.8 263.4,427.3 262.1,426.4 261.5,426.8 262.0,428.4 261.3,428.8 260.2,427.5 259.6,427.8 259.6,429.4 258.9,429.6 258.1,428.2 257.4,428.3 257.1,429.9 256.3,429.9 255.8,428.3 255.2,428.3 254.5,429.8 253.7,429.6 253.6,428.0 253.0,427.8 252.0,429.1 251.3,428.8 251.5,427.1 250.9,426.7 249.7,427.8 249.0,427.3 249.7,425.8 249.2,425.3 247.7,426.0 247.2,425.4 248.1,424.1 247.7,423.5 246.1,423.9 245.7,423.2 247.0,422.0 246.7,421.4 245.0,421.4 244.8,420.6 246.3,419.8 246.1,419.1 244.5,418.8 244.4,418.0 246.0,417.5 246.1,416.8 244.5,416.1 244.7,415.3 246.3,415.2 246.5,414.6 245.2,413.5 245.5,412.8 247.1,413.1 247.4,412.5 246.3,411.2 246.8,410.5 248.3,411.2 248.8,410.7 248.0,409.2 248.6,408.7 249.9,409.6 250.5,409.2 250.0,407.6 250.7,407.2 251.8,408.5 252.4,408.2 252.4,406.6 253.1,406.4 253.9,407.8 254.6,407.7 254.9,406.1 255.7,406.1 256.2,407.7 256.8,407.7 257.5,406.2 258.3,406.4 258.4,408.0 259.0,408.2 260.0,406.9 260.7,407.2 260.5,408.9 261.1,409.3 262.3,408.2 263.0,408.7 262.3,410.2 262.8,410.7 264.3,410.0 264.8,410.6 263.9,411.9 264.3,412.5 265.9,412.1 266.3,412.8 265.0,414.0" fill="#fff" stroke="#111" stroke-width="0.9"/>
<ellipse cx="252" cy="416" rx="11" ry="11.5" transform="rotate(-20 252 416)" fill="#fff" stroke="#111" stroke-width="1.3"/>
<path d="M291.7,384.0 C294.7,380.2 299.8,379.3 303.8,379.1 C307.8,378.9 310.7,380.0 315.9,382.8 C321.1,385.6 328.8,390.2 335.2,396.0 C341.6,401.8 348.9,411.4 354.5,417.8 C360.1,424.2 364.9,427.3 369.0,434.7 C373.1,442.1 378.5,451.1 379.0,462.0 C379.5,472.9 379.3,490.7 372.0,500.0 C364.7,509.3 350.0,515.5 335.0,518.0 C320.0,520.5 294.8,515.3 282.0,515.0 C269.2,514.7 264.1,516.9 258.5,516.2 C252.9,515.6 251.4,513.5 248.5,511.2 C245.6,509.0 242.2,505.4 241.0,502.5 C239.8,499.6 238.5,496.5 241.0,493.8 C243.5,491.0 251.4,492.7 256.0,486.2 C260.6,479.8 263.9,464.4 268.5,455.0 C273.1,445.6 280.6,438.8 283.5,430.0 C286.4,421.2 284.6,409.7 286.0,402.0 C287.4,394.3 288.7,387.8 291.7,384.0 Z" fill="#fff" stroke="#111" stroke-width="1.3" />
<path d="M298.0,390.0 C299.3,389.2 302.7,385.2 306.0,385.0 C309.3,384.8 316.0,388.3 318.0,389.0" fill="none" stroke="#111" stroke-width="1.0" />
<ellipse cx="310.6" cy="399.4" rx="7.2" ry="7.8" transform="rotate(0 310.6 399.4)" fill="#fff" stroke="#111" stroke-width="1.3"/>
<path d="M285.0,518.0 C278.7,514.0 274.8,506.9 272.0,500.0 C269.2,493.1 267.8,485.5 268.5,476.7 C269.2,467.9 271.1,456.4 276.0,447.0 C280.9,437.6 289.7,426.1 298.0,420.0 C306.3,413.9 318.0,411.2 326.0,410.5 C334.0,409.8 340.0,412.4 346.0,416.0 C352.0,419.6 356.7,423.0 362.0,432.0 C367.3,441.0 380.0,456.2 378.0,470.0 C376.0,483.8 361.3,506.0 350.0,515.0 C338.7,524.0 320.8,523.5 310.0,524.0 C299.2,524.5 291.3,522.0 285.0,518.0 Z" fill="#fff" stroke="#111" stroke-width="1.3" />
<path d="M292.0,512.0 C286.2,508.3 282.5,502.7 280.0,496.0 C277.5,489.3 275.8,480.6 277.0,471.6 C278.2,462.6 281.7,450.0 287.0,442.0 C292.3,434.0 301.3,427.7 309.0,423.5 C316.7,419.3 326.1,416.4 333.3,417.0 C340.5,417.6 345.6,419.3 352.0,427.3 C358.4,435.3 372.3,450.9 372.0,465.0 C371.7,479.1 359.5,503.2 350.0,512.0 C340.5,520.8 324.7,518.0 315.0,518.0 C305.3,518.0 297.8,515.7 292.0,512.0 Z" fill="#fff" stroke="#111" stroke-width="1.3" />
<path d="M305.0,508.0 C299.8,505.3 296.4,501.8 294.0,496.0 C291.6,490.2 289.5,481.5 290.7,473.3 C291.9,465.1 295.6,454.2 301.0,447.0 C306.4,439.8 316.2,433.6 323.0,430.0 C329.8,426.4 336.1,424.8 341.8,425.6 C347.5,426.4 352.0,427.9 357.0,435.0 C362.0,442.1 373.2,455.5 372.0,468.0 C370.8,480.5 357.8,502.7 350.0,510.0 C342.2,517.3 332.5,512.3 325.0,512.0 C317.5,511.7 310.2,510.7 305.0,508.0 Z" fill="#fff" stroke="#111" stroke-width="1.3" />
<ellipse cx="263.5" cy="502.5" rx="7" ry="7.5" transform="rotate(0 263.5 502.5)" fill="#fff" stroke="#111" stroke-width="1.3"/>
<defs><pattern id="hr" width="2.6" height="2.6" patternUnits="userSpaceOnUse" patternTransform="rotate(40)"><rect width="2.6" height="2.6" fill="#fff"/><rect width="1.5" height="2.6" fill="#111"/></pattern></defs>
<polygon points="378.5,478.0 380.0,478.7 380.0,479.7 378.4,480.3 378.4,481.3 379.8,482.1 379.7,483.1 378.1,483.5 377.9,484.5 379.3,485.5 379.0,486.5 377.4,486.8 377.2,487.7 378.4,488.8 378.1,489.7 376.5,489.9 376.2,490.8 377.3,492.0 376.9,492.9 375.3,492.9 374.9,493.8 375.9,495.1 375.5,496.0 373.8,495.9 373.3,496.7 374.3,498.1 373.7,498.9 372.1,498.7 371.5,499.5 372.3,500.9 371.7,501.7 370.1,501.3 369.5,502.0 370.2,503.5 369.5,504.3 367.9,503.7 367.2,504.4 367.8,505.9 367.0,506.6 365.5,505.9 364.8,506.5 365.2,508.1 364.3,508.7 362.9,507.9 362.1,508.5 362.4,510.1 361.5,510.6 360.2,509.7 359.3,510.1 359.4,511.8 358.5,512.2 357.2,511.2 356.3,511.6 356.3,513.2 355.4,513.6 354.2,512.4 353.3,512.7 353.1,514.3 352.1,514.6 351.1,513.4 350.1,513.6 349.8,515.2 348.8,515.4 347.9,514.0 346.9,514.2 346.4,515.7 345.4,515.8 344.6,514.4 343.6,514.5 343.0,516.0 342.0,516.0 341.3,514.5 340.4,514.5 339.6,515.9 338.6,515.8 338.1,514.3 337.1,514.2 336.2,515.6 335.2,515.4 334.8,513.8 333.9,513.6 332.9,514.9 331.9,514.6 331.7,513.0 330.7,512.7 329.6,513.9 328.6,513.6 328.6,511.9 327.7,511.6 326.4,512.7 325.5,512.2 325.6,510.6 324.7,510.1 323.4,511.1 322.5,510.6 322.7,509.0 321.9,508.5 320.5,509.3 319.7,508.7 320.0,507.1 319.2,506.5 317.8,507.3 317.0,506.6 317.5,505.1 316.8,504.4 315.3,505.0 314.5,504.3 315.2,502.7 314.5,502.0 312.9,502.5 312.3,501.7 313.1,500.2 312.5,499.5 310.9,499.8 310.3,498.9 311.2,497.6 310.7,496.7 309.0,496.9 308.5,496.0 309.6,494.7 309.1,493.8 307.5,493.9 307.1,492.9 308.2,491.7 307.8,490.8 306.2,490.7 305.9,489.7 307.1,488.7 306.8,487.7 305.2,487.5 305.0,486.5 306.3,485.5 306.1,484.5 304.5,484.1 304.3,483.1 305.7,482.2 305.6,481.3 304.1,480.7 304.0,479.7 305.5,479.0 305.5,478.0 304.0,477.3 304.0,476.3 305.6,475.7 305.6,474.7 304.2,473.9 304.3,472.9 305.9,472.5 306.1,471.5 304.7,470.5 305.0,469.5 306.6,469.2 306.8,468.3 305.6,467.2 305.9,466.3 307.5,466.1 307.8,465.2 306.7,464.0 307.1,463.1 308.7,463.1 309.1,462.2 308.1,460.9 308.5,460.0 310.2,460.1 310.7,459.3 309.7,457.9 310.3,457.1 311.9,457.3 312.5,456.5 311.7,455.1 312.3,454.3 313.9,454.7 314.5,454.0 313.8,452.5 314.5,451.7 316.1,452.3 316.8,451.6 316.2,450.1 317.0,449.4 318.5,450.1 319.2,449.5 318.8,447.9 319.7,447.3 321.1,448.1 321.9,447.5 321.6,445.9 322.5,445.4 323.8,446.3 324.7,445.9 324.6,444.2 325.5,443.8 326.8,444.8 327.7,444.4 327.7,442.8 328.6,442.4 329.8,443.6 330.7,443.3 330.9,441.7 331.9,441.4 332.9,442.6 333.9,442.4 334.2,440.8 335.2,440.6 336.1,442.0 337.1,441.8 337.6,440.3 338.6,440.2 339.4,441.6 340.4,441.5 341.0,440.0 342.0,440.0 342.7,441.5 343.6,441.5 344.4,440.1 345.4,440.2 345.9,441.7 346.9,441.8 347.8,440.4 348.8,440.6 349.2,442.2 350.1,442.4 351.1,441.1 352.1,441.4 352.3,443.0 353.3,443.3 354.4,442.1 355.4,442.4 355.4,444.1 356.3,444.4 357.6,443.3 358.5,443.8 358.4,445.4 359.3,445.9 360.6,444.9 361.5,445.4 361.3,447.0 362.1,447.5 363.5,446.7 364.3,447.3 364.0,448.9 364.8,449.5 366.2,448.7 367.0,449.4 366.5,450.9 367.2,451.6 368.7,451.0 369.5,451.7 368.8,453.3 369.5,454.0 371.1,453.5 371.7,454.3 370.9,455.8 371.5,456.5 373.1,456.2 373.7,457.1 372.8,458.4 373.3,459.3 375.0,459.1 375.5,460.0 374.4,461.3 374.9,462.2 376.5,462.1 376.9,463.1 375.8,464.3 376.2,465.2 377.8,465.3 378.1,466.3 376.9,467.3 377.2,468.3 378.8,468.5 379.0,469.5 377.7,470.5 377.9,471.5 379.5,471.9 379.7,472.9 378.3,473.8 378.4,474.7 379.9,475.3 380.0,476.3 378.5,477.0" fill="url(#hr)" stroke="#111" stroke-width="1.0"/>
<polygon points="371.0,479.6 373.9,480.5 373.8,481.6 370.7,481.9 370.6,482.9 373.4,484.1 373.2,485.1 370.1,485.1 369.9,486.0 372.5,487.5 372.2,488.6 369.2,488.2 368.8,489.1 371.3,490.9 370.8,491.9 367.8,491.2 367.4,492.0 369.7,494.1 369.1,495.0 366.2,494.0 365.7,494.8 367.7,497.1 367.0,498.0 364.3,496.6 363.6,497.3 365.4,499.9 364.6,500.6 362.0,499.0 361.3,499.6 362.8,502.3 362.0,503.0 359.6,501.1 358.8,501.7 359.9,504.5 359.0,505.1 356.9,502.9 356.0,503.4 356.8,506.3 355.9,506.8 354.0,504.4 353.1,504.8 353.6,507.8 352.6,508.2 351.0,505.6 350.0,505.9 350.2,508.9 349.1,509.2 347.8,506.4 346.9,506.6 346.7,509.7 345.6,509.8 344.6,506.9 343.6,507.0 343.1,510.0 342.0,510.0 341.3,507.0 340.4,507.0 339.5,509.9 338.4,509.8 338.1,506.7 337.1,506.6 335.9,509.4 334.9,509.2 334.9,506.1 334.0,505.9 332.5,508.5 331.4,508.2 331.8,505.2 330.9,504.8 329.1,507.3 328.1,506.8 328.8,503.8 328.0,503.4 325.9,505.7 325.0,505.1 326.0,502.2 325.2,501.7 322.9,503.7 322.0,503.0 323.4,500.3 322.7,499.6 320.1,501.4 319.4,500.6 321.0,498.0 320.4,497.3 317.7,498.8 317.0,498.0 318.9,495.6 318.3,494.8 315.5,495.9 314.9,495.0 317.1,492.9 316.6,492.0 313.7,492.8 313.2,491.9 315.6,490.0 315.2,489.1 312.2,489.6 311.8,488.6 314.4,487.0 314.1,486.0 311.1,486.2 310.8,485.1 313.6,483.8 313.4,482.9 310.3,482.7 310.2,481.6 313.1,480.6 313.0,479.6 310.0,479.1 310.0,478.0 313.0,477.3 313.0,476.4 310.1,475.5 310.2,474.4 313.3,474.1 313.4,473.1 310.6,471.9 310.8,470.9 313.9,470.9 314.1,470.0 311.5,468.5 311.8,467.4 314.8,467.8 315.2,466.9 312.7,465.1 313.2,464.1 316.2,464.8 316.6,464.0 314.3,461.9 314.9,461.0 317.8,462.0 318.3,461.2 316.3,458.9 317.0,458.0 319.7,459.4 320.4,458.7 318.6,456.1 319.4,455.4 322.0,457.0 322.7,456.4 321.2,453.7 322.0,453.0 324.4,454.9 325.2,454.3 324.1,451.5 325.0,450.9 327.1,453.1 328.0,452.6 327.2,449.7 328.1,449.2 330.0,451.6 330.9,451.2 330.4,448.2 331.4,447.8 333.0,450.4 334.0,450.1 333.8,447.1 334.9,446.8 336.2,449.6 337.1,449.4 337.3,446.3 338.4,446.2 339.4,449.1 340.4,449.0 340.9,446.0 342.0,446.0 342.7,449.0 343.6,449.0 344.5,446.1 345.6,446.2 345.9,449.3 346.9,449.4 348.1,446.6 349.1,446.8 349.1,449.9 350.0,450.1 351.5,447.5 352.6,447.8 352.2,450.8 353.1,451.2 354.9,448.7 355.9,449.2 355.2,452.2 356.0,452.6 358.1,450.3 359.0,450.9 358.0,453.8 358.8,454.3 361.1,452.3 362.0,453.0 360.6,455.7 361.3,456.4 363.9,454.6 364.6,455.4 363.0,458.0 363.6,458.7 366.3,457.2 367.0,458.0 365.1,460.4 365.7,461.2 368.5,460.1 369.1,461.0 366.9,463.1 367.4,464.0 370.3,463.2 370.8,464.1 368.4,466.0 368.8,466.9 371.8,466.4 372.2,467.4 369.6,469.0 369.9,470.0 372.9,469.8 373.2,470.9 370.4,472.2 370.6,473.1 373.7,473.3 373.8,474.4 370.9,475.4 371.0,476.4 374.0,476.9 374.0,478.0 371.0,478.7" fill="#fff" stroke="#111" stroke-width="1.0"/>
<polygon points="349.0,460.0 352.5,461.0 352.3,462.5 348.7,462.8 348.4,463.9 351.5,465.9 350.9,467.3 347.4,466.5 346.8,467.6 349.2,470.3 348.2,471.5 345.0,469.8 344.2,470.6 345.7,473.9 344.5,474.7 341.9,472.2 340.8,472.7 341.3,476.3 339.9,476.8 338.2,473.6 337.0,473.9 336.5,477.4 335.0,477.5 334.2,474.0 333.0,473.9 331.5,477.2 330.1,476.8 330.3,473.2 329.2,472.7 326.8,475.5 325.5,474.7 326.8,471.3 325.8,470.6 322.8,472.5 321.8,471.5 323.9,468.5 323.2,467.6 319.8,468.6 319.1,467.3 322.0,465.1 321.6,463.9 318.0,464.0 317.7,462.5 321.1,461.2 321.0,460.0 317.5,459.0 317.7,457.5 321.3,457.2 321.6,456.1 318.5,454.1 319.1,452.7 322.6,453.5 323.2,452.4 320.8,449.7 321.8,448.5 325.0,450.2 325.8,449.4 324.3,446.1 325.5,445.3 328.1,447.8 329.2,447.3 328.7,443.7 330.1,443.2 331.8,446.4 333.0,446.1 333.5,442.6 335.0,442.5 335.8,446.0 337.0,446.1 338.5,442.8 339.9,443.2 339.7,446.8 340.8,447.3 343.2,444.5 344.5,445.3 343.2,448.7 344.2,449.4 347.2,447.5 348.2,448.5 346.1,451.5 346.8,452.4 350.2,451.4 350.9,452.7 348.0,454.9 348.4,456.1 352.0,456.0 352.3,457.5 348.9,458.8" fill="url(#hr)" stroke="#111" stroke-width="1.0"/>
<ellipse cx="335" cy="460" rx="12.5" ry="12.5" transform="rotate(0 335 460)" fill="#fff" stroke="#111" stroke-width="1.3"/>
<path d="M336,452.5 L416,495 L409.5,507 L346,470 Q327,463 336,452.5 Z" fill="#fff" stroke="#111" stroke-width="1.3" />
<path d="M727.6,397.0 C733.4,395.8 745.8,395.0 755.0,395.0 C764.2,395.0 775.3,395.3 782.8,397.0 C790.3,398.7 793.7,399.8 800.0,405.0 C806.3,410.2 814.7,421.8 820.7,428.3 C826.7,434.8 836.3,438.9 836.2,443.8 C836.1,448.8 827.7,454.5 820.0,458.0 C812.3,461.5 798.5,464.1 790.0,465.0 C781.5,465.9 776.0,463.6 769.0,463.5 C762.0,463.4 755.0,465.9 748.3,464.5 C741.6,463.1 734.0,459.6 729.0,455.0 C724.0,450.4 720.4,443.8 718.5,437.0 C716.6,430.2 717.2,420.3 717.5,414.5 C717.8,408.7 718.8,404.9 720.5,402.0 C722.2,399.1 721.9,398.2 727.6,397.0 Z" fill="#fff" stroke="#333" stroke-width="1.1" />
<path d="M751.6,442.2 C752.6,440.2 805.2,425.7 810.0,426.0 C814.8,426.3 848.3,446.6 847.3,448.6 C846.3,450.6 793.9,467.0 789.1,466.7 C784.3,466.4 750.6,444.2 751.6,442.2 Z" fill="#fff" stroke="#111" stroke-width="1.0" />
<path d="M756.0,442.5 C757.0,440.7 805.6,428.2 810.0,428.5 C814.4,428.8 844.0,446.8 843.0,448.6 C842.0,450.4 793.9,464.3 789.5,464.0 C785.1,463.7 755.0,444.3 756.0,442.5 Z" fill="none" stroke="#111" stroke-width="0.7" />
<ellipse cx="799" cy="444" rx="35" ry="15" transform="rotate(-8 799 444)" fill="#111" stroke="#111" stroke-width="1.0"/>
<path d="M809.0,444.0 Q820.9,444.8 823.8,449.0" fill="none" stroke="#444" stroke-width="0.8" stroke-dasharray="1.5 1.5"/>
<path d="M807.1,446.2 Q815.0,449.7 810.5,453.8" fill="none" stroke="#444" stroke-width="0.8" stroke-dasharray="1.5 1.5"/>
<path d="M802.4,447.4 Q802.5,452.0 792.7,453.9" fill="none" stroke="#444" stroke-width="0.8" stroke-dasharray="1.5 1.5"/>
<path d="M797.0,447.0 Q789.3,450.5 778.8,449.5" fill="none" stroke="#444" stroke-width="0.8" stroke-dasharray="1.5 1.5"/>
<path d="M793.5,445.2 Q781.6,446.0 775.3,442.4" fill="none" stroke="#444" stroke-width="0.8" stroke-dasharray="1.5 1.5"/>
<path d="M793.5,442.8 Q783.0,440.5 783.8,436.1" fill="none" stroke="#444" stroke-width="0.8" stroke-dasharray="1.5 1.5"/>
<path d="M797.0,441.0 Q792.8,436.7 800.4,433.5" fill="none" stroke="#444" stroke-width="0.8" stroke-dasharray="1.5 1.5"/>
<path d="M802.4,440.6 Q806.4,436.3 817.2,435.8" fill="none" stroke="#444" stroke-width="0.8" stroke-dasharray="1.5 1.5"/>
<path d="M807.1,441.8 Q817.5,439.5 826.5,441.9" fill="none" stroke="#444" stroke-width="0.8" stroke-dasharray="1.5 1.5"/>
</svg></body></html>
